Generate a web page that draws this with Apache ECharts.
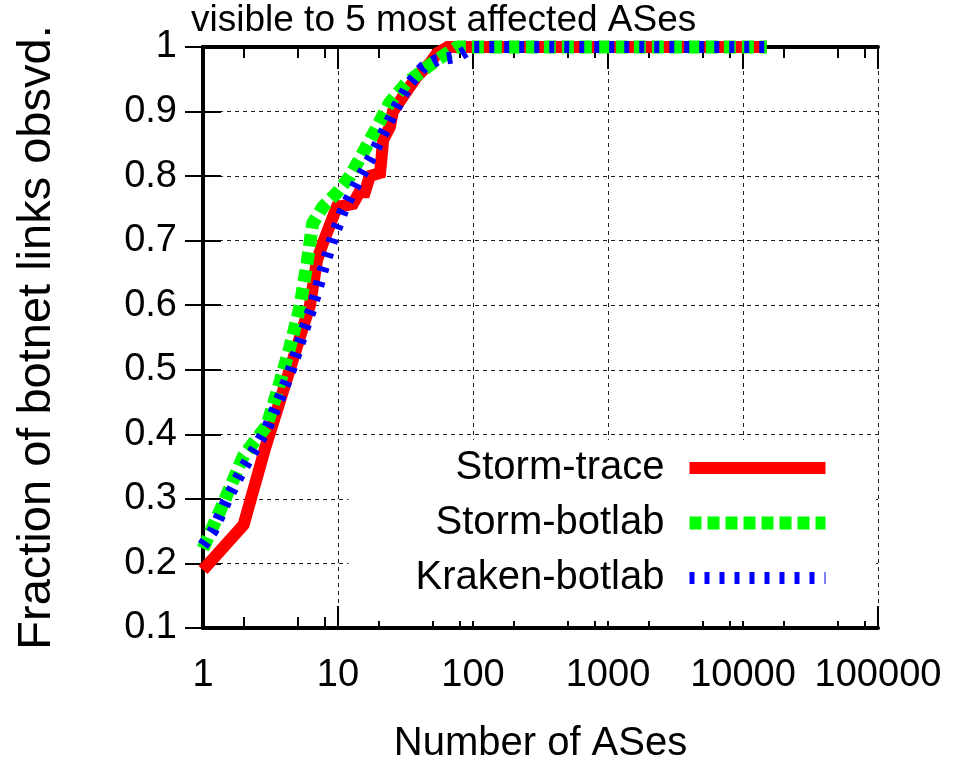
<!DOCTYPE html>
<html>
<head>
<meta charset="utf-8">
<script src="https://cdn.jsdelivr.net/npm/echarts@6/dist/echarts.min.js"></script>
<style>
html, body { margin: 0; padding: 0; background: #fff; }
#main { width: 964px; height: 766px; }
</style>
</head>
<body>
<div id="main"></div>
<script>
// axis ranges / ticks
var xTickValues = [1, 10, 100, 1000, 10000, 100000];
var yTickValues = [0.1, 0.2, 0.3, 0.4, 0.5, 0.6, 0.7, 0.8, 0.9, 1];
var xMinorSteps = [2, 5, 8];

var seriesNames = ['Storm-trace', 'Storm-botlab', 'Kraken-botlab'];

// Storm-trace
var traceX = [1, 2, 2.9, 6.2, 7.0, 7.7, 9.8, 12.9, 14.4, 15.8, 17.2, 20.5, 21.6, 24.2, 25.5, 30, 38, 48, 54, 65, 15000];
var traceY = [0.19, 0.26, 0.38, 0.6, 0.67, 0.695, 0.752, 0.757, 0.775, 0.775, 0.8, 0.805, 0.856, 0.876, 0.9, 0.922, 0.953, 0.975, 0.99, 1, 1];

// Storm-botlab
var stormBotX = [1, 1.34, 2, 2.98, 3.6, 4.4, 5.2, 5.9, 6.5, 7.7, 9.8, 12.3, 15.3, 19.4, 24, 32, 43, 50, 64, 76, 15000];
var stormBotY = [0.223, 0.282, 0.367, 0.414, 0.471, 0.535, 0.595, 0.665, 0.727, 0.752, 0.774, 0.8, 0.836, 0.876, 0.913, 0.944, 0.964, 0.975, 0.99, 1, 1];

// Kraken-botlab
var krakenX = [1, 1.19, 1.5, 1.94, 2.56, 2.97, 3.7, 4.55, 5.5, 6.5, 7.7, 9.2, 10.9, 13.8, 17.2, 21.6, 27, 34, 43, 54, 76, 100, 15000];
var krakenY = [0.228, 0.251, 0.298, 0.344, 0.386, 0.409, 0.456, 0.504, 0.557, 0.6, 0.654, 0.705, 0.747, 0.789, 0.825, 0.866, 0.907, 0.944, 0.969, 0.98, 0.985, 1, 1];

function zip(xs, ys) {
	var out = [];
	for (var i = 0; i < xs.length; i++) {
		out.push([xs[i], ys[i]]);
	}
	return out;
}

// minor tick positions in decade units (for the overlay value axes)
var minorPos = [];
for (var d = 0; d < xTickValues.length - 1; d++) {
	for (var k = 0; k < xMinorSteps.length; k++) {
		minorPos.push(d + Math.log10(xMinorSteps[k]));
	}
}

var FONT = '"Liberation Sans", Arial, sans-serif';
var black = '#000';

var myChart = echarts.init(document.getElementById('main'), null, { renderer: 'canvas' });
var option = {
	animation: false,
	backgroundColor: '#fff',
	textStyle: { fontFamily: FONT, color: black },
	title: {
		text: 'visible to 5 most affected ASes',
		left: 191,
		top: 2,
		padding: 0,
		textStyle: { fontSize: 37, fontWeight: 'normal', color: black, fontFamily: FONT }
	},
	grid: {
		left: 203,
		right: 86,
		top: 47,
		bottom: 138,
		containLabel: false,
		outerBoundsMode: 'none'
	},
	legend: {
		orient: 'vertical',
		align: 'right',
		right: 88,
		top: 440,
		padding: [8, 44, 23, 67],
		backgroundColor: '#fff',
		itemWidth: 136,
		itemHeight: 14,
		itemGap: 15,
		selectedMode: false,
		lineStyle: { width: 'inherit', type: 'inherit', cap: 'butt' },
		itemStyle: { opacity: 0 },
		textStyle: { fontSize: 40, color: black, fontFamily: FONT, padding: [0, 20, 0, 0] },
		data: seriesNames
	},
	xAxis: [{
		type: 'log',
		logBase: 10,
		min: xTickValues[0],
		max: xTickValues[xTickValues.length - 1],
		position: 'bottom',
		name: 'Number of ASes',
		nameLocation: 'middle',
		nameGap: 96,
		nameTextStyle: { fontSize: 40, color: black, fontFamily: FONT },
		axisLine: { show: true, lineStyle: { color: black, width: 4 } },
		axisTick: { show: true, inside: true, length: 22, lineStyle: { color: black, width: 2 } },
		axisLabel: {
			show: true, margin: 29, fontSize: 38, color: black, fontFamily: FONT,
			formatter: function(v) { return String(Math.round(v)); }
		},
		splitLine: { show: true, lineStyle: { color: '#222', width: 1, type: [4, 4] } },
		minorTick: { show: false }
	}, {
		type: 'value', min: 0, max: 5, position: 'bottom',
		axisLine: { show: false },
		axisTick: { show: true, inside: true, length: 11, customValues: minorPos, lineStyle: { color: black, width: 2 } },
		axisLabel: { show: false },
		splitLine: { show: false }
	}, {
		type: 'log', logBase: 10,
		min: xTickValues[0],
		max: xTickValues[xTickValues.length - 1],
		position: 'top',
		axisLine: { show: true, lineStyle: { color: black, width: 4 } },
		axisTick: { show: true, inside: true, length: 22, lineStyle: { color: black, width: 2 } },
		axisLabel: { show: false },
		splitLine: { show: false }
	}, {
		type: 'value', min: 0, max: 5, position: 'top',
		axisLine: { show: false },
		axisTick: { show: true, inside: true, length: 11, customValues: minorPos, lineStyle: { color: black, width: 2 } },
		axisLabel: { show: false },
		splitLine: { show: false }
	}],
	yAxis: [{
		type: 'value',
		min: yTickValues[0],
		max: yTickValues[yTickValues.length - 1],
		interval: 0.1,
		position: 'left',
		name: 'Fraction of botnet links obsvd.',
		nameLocation: 'middle',
		nameGap: 142,
		nameTextStyle: { fontSize: 47, color: black, fontFamily: FONT },
		axisLine: { show: true, lineStyle: { color: black, width: 4 } },
		axisTick: { show: true, inside: true, length: 18, lineStyle: { color: black, width: 2 } },
		axisLabel: {
			show: true, margin: 26, fontSize: 38, color: black, fontFamily: FONT,
			formatter: function(v) { return String(+v.toFixed(1)); }
		},
		splitLine: { show: true, lineStyle: { color: '#222', width: 1, type: [4, 4] } }
	}, {
		type: 'value',
		min: yTickValues[0],
		max: yTickValues[yTickValues.length - 1],
		interval: 0.1,
		position: 'right',
		axisLine: { show: true, lineStyle: { color: black, width: 4 } },
		axisTick: { show: true, inside: true, length: 18, lineStyle: { color: black, width: 2 } },
		axisLabel: { show: false },
		splitLine: { show: false }
	}],
	series: [{
		name: seriesNames[0],
		type: 'line',
		xAxisIndex: 0,
		yAxisIndex: 0,
		symbol: 'none',
		clip: false,
		color: '#ff0000',
		lineStyle: { color: '#ff0000', width: 12, cap: 'butt', join: 'miter' },
		data: zip(traceX, traceY)
	}, {
		name: seriesNames[1],
		type: 'line',
		xAxisIndex: 0,
		yAxisIndex: 0,
		symbol: 'none',
		clip: false,
		color: '#00ff00',
		lineStyle: { color: '#00ff00', width: 13, type: [12, 6], cap: 'butt' },
		data: zip(stormBotX, stormBotY)
	}, {
		name: seriesNames[2],
		type: 'line',
		xAxisIndex: 0,
		yAxisIndex: 0,
		symbol: 'none',
		clip: false,
		color: '#0000ff',
		lineStyle: { color: '#0000ff', width: 12, type: [5, 10], cap: 'butt' },
		data: zip(krakenX, krakenY)
	}]
};
myChart.setOption(option);
</script>
</body>
</html>
